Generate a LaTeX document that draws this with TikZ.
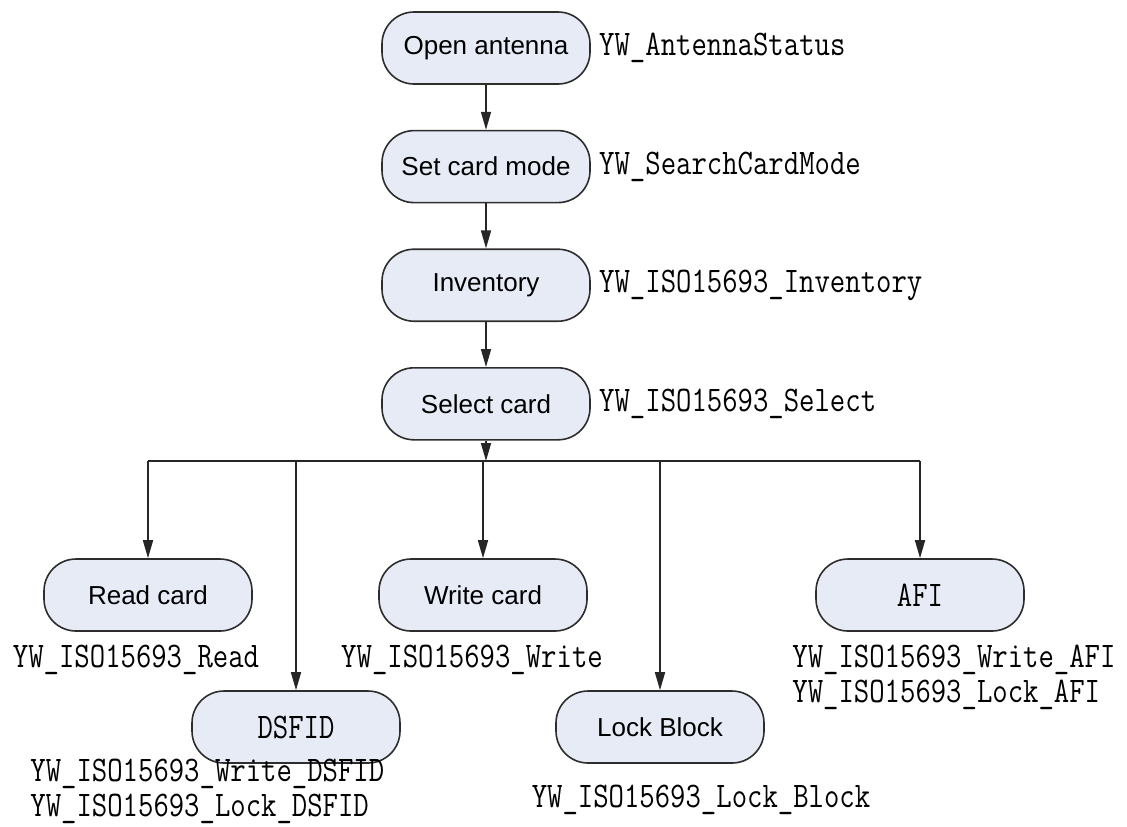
\documentclass[tikz,border=0pt]{standalone}
\usepackage{fontspec}
\setmainfont{Liberation Sans}
\newfontfamily\apifont[FakeStretch=0.83]{Latin Modern Mono}
\usepackage{xcolor}
\usetikzlibrary{shapes, arrows.meta, positioning}
\definecolor{boxfill}{RGB}{230,235,246}
\definecolor{boxline}{RGB}{45,45,45}

\begin{document}
\begin{tikzpicture}[
    x=0.5pt, y=-0.5pt,
    process/.style={rectangle, rounded corners=16pt, draw=boxline, fill=boxfill, line width=0.8pt,
        minimum width=104pt, minimum height=36pt, align=center, font=\fontsize{13}{15}\selectfont},
    apibox/.style={process, font=\apifont\fontsize{18}{17.5}\selectfont},
    apicall/.style={font=\apifont\fontsize{18}{17.5}\selectfont, inner sep=0pt, align=left},
    arrow/.style={-{Triangle[length=9pt,width=5pt]}, line width=0.8pt, draw=black!85},
    node distance=22.5pt and 4pt
]
\useasboundingbox (0,0) rectangle (1127,826);

% main chain
\node[process] (open) at (486,48) {Open antenna};
\node[process, below=of open] (mode) {Set card mode};
\node[process, below=of mode] (inv) {Inventory};
\node[process, below=of inv] (sel) {Select card};

\node[apicall, right=of open] (openfn) {YW\_AntennaStatus};
\node[apicall, right=of mode] (modefn) {YW\_SearchCardMode};
\node[apicall, right=of inv] (invfn) {YW\_ISO15693\_Inventory};
\node[apicall, right=of sel] (selfn) {YW\_ISO15693\_Select};

% operations
\node[process] (read) at (148,595) {Read card};
\node[process] (write) at (483,595) {Write card};
\node[apibox] (afi) at (920,595) {AFI};
\node[apibox] (dsfid) at (296,727) {DSFID};
\node[process] (lock) at (660,727) {Lock Block};

\node[apicall] (readfn) at (136,660) {YW\_ISO15693\_Read};
\node[apicall] (writefn) at (472,660) {YW\_ISO15693\_Write};
\node[apicall, anchor=west] (afifn) at (792,677.5) {YW\_ISO15693\_Write\_AFI\\YW\_ISO15693\_Lock\_AFI};
\node[apicall, anchor=west] (dsfidfn) at (30,791.5) {YW\_ISO15693\_Write\_DSFID\\YW\_ISO15693\_Lock\_DSFID};
\node[apicall] (lockfn) at (701,800) {YW\_ISO15693\_Lock\_Block};

% arrows
\coordinate (bus) at (486,461);
\draw[arrow] (open) -- (mode);
\draw[arrow] (mode) -- (inv);
\draw[arrow] (inv) -- (sel);
\draw[arrow] (sel) -- (bus);
\draw[line width=0.8pt, draw=black!85] (read.north |- bus) -- (afi.north |- bus);
\foreach \n in {read, dsfid, write, lock, afi}
    \draw[arrow] (\n.north |- bus) -- (\n);

\end{tikzpicture}
\end{document}
